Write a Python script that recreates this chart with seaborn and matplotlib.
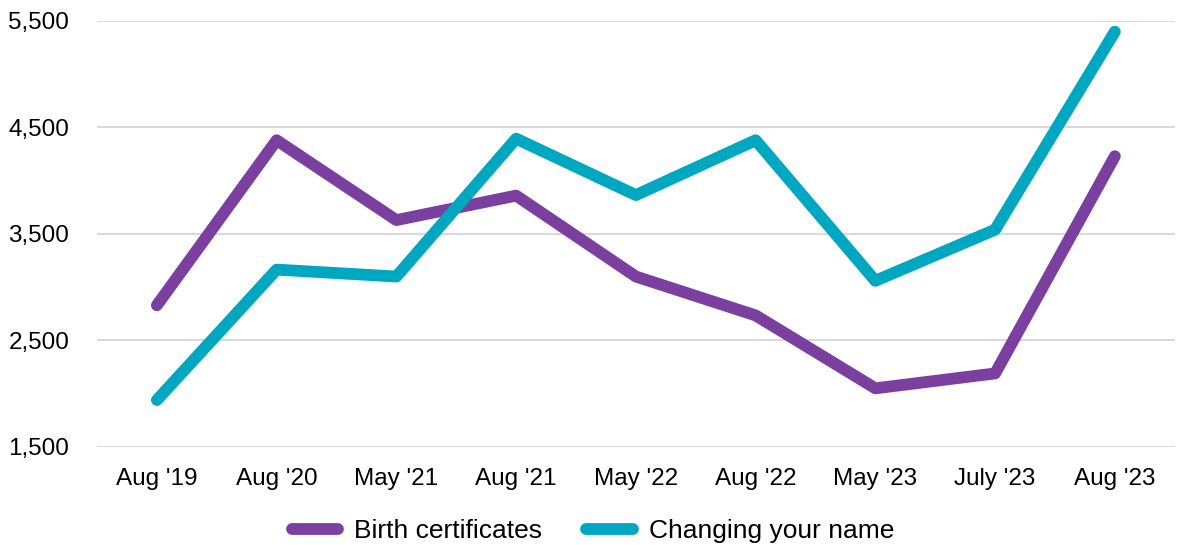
import pandas as pd
import seaborn as sns
import matplotlib.pyplot as plt
from matplotlib.ticker import FuncFormatter

periods = ["Aug '19", "Aug '20", "May '21", "Aug '21", "May '22",
           "Aug '22", "May '23", "July '23", "Aug '23"]
birth = [2830, 4380, 3630, 3860, 3100, 2735, 2050, 2190, 4230]
name_change = [1940, 3165, 3100, 4395, 3865, 4380, 3060, 3540, 5400]

series_names = ["Birth certificates", "Changing your name"]
colours = ["#7B3FA0", "#00A7C1"]

data = pd.concat([
    pd.DataFrame({'Period': periods, 'Count': birth, 'Service': series_names[0]}),
    pd.DataFrame({'Period': periods, 'Count': name_change, 'Service': series_names[1]}),
])
data['x'] = data['Period'].map({p: i for i, p in enumerate(periods)})

sns.set_style("white")
plt.rcParams['font.family'] = ['Liberation Sans', 'DejaVu Sans']
plt.rcParams['text.color'] = 'black'

fig = plt.figure(figsize=(11.83, 5.45), dpi=100)
ax = fig.add_axes([0.082, 0.18, 0.911, 0.7815])

sns.lineplot(data=data, x='x', y='Count', hue='Service', palette=colours,
             linewidth=8.5, solid_capstyle='round', ax=ax, legend=True)

ax.set_xlim(-0.5, len(periods) - 0.5)
ax.set_ylim(1500, 5500)
ax.set_yticks([1500, 2500, 3500, 4500, 5500])
ax.yaxis.set_major_formatter(FuncFormatter(lambda v, p: f"{int(v):,}"))
ax.set_xticks(range(len(periods)))
ax.set_xticklabels(periods)
ax.grid(axis='y', color='#d9d9d9', linewidth=1.5)
ax.set_axisbelow(True)
for s in ax.spines.values():
    s.set_visible(False)
ax.tick_params(axis='both', length=0, labelsize=17.5, colors='black')
ax.tick_params(axis='x', pad=15)
ax.tick_params(axis='y', pad=20)
ax.set_xlabel('')
ax.set_ylabel('')

leg = ax.legend(loc='upper center', bbox_to_anchor=(0.46, -0.113), ncol=2,
                frameon=False, fontsize=19, handlelength=1.75,
                handletextpad=0.6, columnspacing=1.7)
for line in leg.get_lines():
    line.set_linewidth(8.5)
    line.set_solid_capstyle('round')
for t in leg.get_texts():
    t.set_color('black')

fig.savefig('out.png', dpi=100)
